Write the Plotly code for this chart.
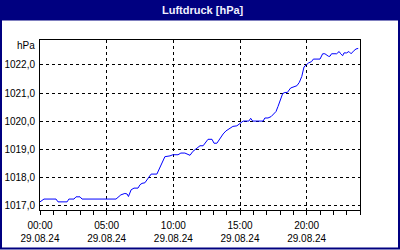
import pandas as pd
import plotly.graph_objects as go

# --- data ---
times = ["00:00", "00:18", "01:12", "01:21", "02:02", "02:10", "02:33", "02:42", "03:00", "03:09",
         "05:42", "05:56", "06:04", "06:22", "06:32", "06:38", "06:50", "07:03", "07:21", "07:30",
         "07:39", "07:52", "08:06", "08:20", "08:46", "09:00", "09:14", "09:22", "09:45", "09:58",
         "10:21", "10:34", "10:52", "11:06", "11:15", "11:28", "11:42", "12:00", "12:14", "12:27",
         "12:36", "12:54", "13:03", "13:16", "13:30", "13:44", "13:57", "14:18", "14:28", "14:46",
         "15:00", "15:14", "15:40", "15:48", "15:57", "16:44", "16:52", "17:06", "17:20", "17:28",
         "17:42", "17:51", "18:00", "18:12", "18:22", "18:33", "18:48", "19:08", "19:16", "19:27",
         "19:38", "19:48", "19:57", "20:08", "20:22", "20:30", "21:00", "21:12", "21:22", "21:38",
         "21:45", "21:52", "22:15", "22:26", "22:33", "22:42", "22:48", "23:00", "23:10", "23:20",
         "23:30", "23:42", "23:52"]
pressure = [1017.12, 1017.22, 1017.22, 1017.12, 1017.12, 1017.22, 1017.22, 1017.30, 1017.30, 1017.22,
            1017.22, 1017.33, 1017.37, 1017.42, 1017.40, 1017.31, 1017.55, 1017.61, 1017.61, 1017.73,
            1017.78, 1017.80, 1017.96, 1018.11, 1018.11, 1018.37, 1018.64, 1018.73, 1018.76, 1018.80,
            1018.80, 1018.86, 1018.86, 1018.81, 1018.78, 1018.92, 1019.01, 1019.12, 1019.12, 1019.28,
            1019.35, 1019.35, 1019.21, 1019.21, 1019.39, 1019.54, 1019.65, 1019.75, 1019.81, 1019.83,
            1019.91, 1020.00, 1020.00, 1020.10, 1020.00, 1020.00, 1020.11, 1020.11, 1020.16, 1020.22,
            1020.34, 1020.52, 1020.70, 1020.98, 1021.02, 1021.02, 1021.18, 1021.24, 1021.26, 1021.38,
            1021.59, 1021.93, 1022.00, 1022.07, 1022.12, 1022.21, 1022.21, 1022.40, 1022.40, 1022.31,
            1022.31, 1022.40, 1022.40, 1022.48, 1022.40, 1022.33, 1022.43, 1022.43, 1022.48, 1022.40,
            1022.49, 1022.57, 1022.59]
y_ticks = [1017, 1018, 1019, 1020, 1021, 1022]
y_tick_labels = ["1017,0", "1018,0", "1019,0", "1020,0", "1021,0", "1022,0"]
x_ticks = ["00:00", "05:00", "10:00", "15:00", "20:00"]
date_label = "29.08.24"
day = "2024-08-29"

x = pd.to_datetime([f"{day} {t}" for t in times])
xt = pd.to_datetime([f"{day} {t}" for t in x_ticks])

NAVY = "#000080"
FONT = "Liberation Sans"

fig = go.Figure()
fig.add_trace(go.Scatter(x=x, y=pressure, mode="lines",
                         line=dict(color="#0000ff", width=1), hoverinfo="skip"))

W, H = 400, 250
L, R, T, B = 40, 40, 40, 40
pw, ph = W - L - R, H - T - B


def px(xp):
    return (xp - L) / pw


def py(yp):
    return (H - B - yp) / ph


fig.update_layout(
    width=W, height=H,
    margin=dict(l=L, r=R, t=T, b=B, pad=0, autoexpand=False),
    paper_bgcolor="white", plot_bgcolor="white",
    showlegend=False,
    font=dict(family=FONT, size=10, color="black"),
    xaxis=dict(
        range=[pd.Timestamp(f"{day} 00:00"), pd.Timestamp(f"{day} 00:00") + pd.Timedelta(hours=24)],
        tickvals=xt, ticktext=[f"{t}<br>{date_label}" for t in x_ticks],
        ticks="outside", ticklen=4, tickcolor="black", tickwidth=1, ticklabelstandoff=2,
        minor=dict(dtick=3600000, ticks="outside", ticklen=4, tickcolor="black", showgrid=False),
        showgrid=True, gridcolor="black", gridwidth=1, griddash="3px,3px",
        showline=True, linecolor="black", linewidth=1, mirror=True,
        zeroline=False, tickfont=dict(family=FONT, size=10, color="black"),
        automargin=False, fixedrange=True,
    ),
    yaxis=dict(
        range=[1016.83, 1022.89],
        tickvals=y_ticks, ticktext=y_tick_labels,
        ticks="", ticklabelstandoff=2,
        showgrid=True, gridcolor="black", gridwidth=1, griddash="3px,3px",
        showline=True, linecolor="black", linewidth=1, mirror=True,
        zeroline=False, tickfont=dict(family=FONT, size=10, color="black"),
        automargin=False, fixedrange=True,
    ),
    shapes=[
        dict(type="rect", xref="paper", yref="paper",
             x0=px(0), x1=px(400), y0=py(0), y1=py(20.5),
             fillcolor=NAVY, line=dict(width=0), layer="above"),
        dict(type="rect", xref="paper", yref="paper",
             x0=px(1), x1=px(399), y0=py(5), y1=py(248.5),
             fillcolor="rgba(0,0,0,0)", line=dict(color=NAVY, width=2), layer="above"),
    ],
    annotations=[
        dict(text="<b>Luftdruck [hPa]</b>", xref="paper", yref="paper",
             x=px(203), y=py(10.5), xanchor="center", yanchor="middle", showarrow=False,
             font=dict(family=FONT, size=11, color="#f0f0ff")),
        dict(text="hPa", xref="paper", yref="paper",
             x=px(37), y=py(45), xanchor="right", yanchor="middle", showarrow=False,
             font=dict(family=FONT, size=10, color="black")),
    ],
)

fig.write_html("out.html")
